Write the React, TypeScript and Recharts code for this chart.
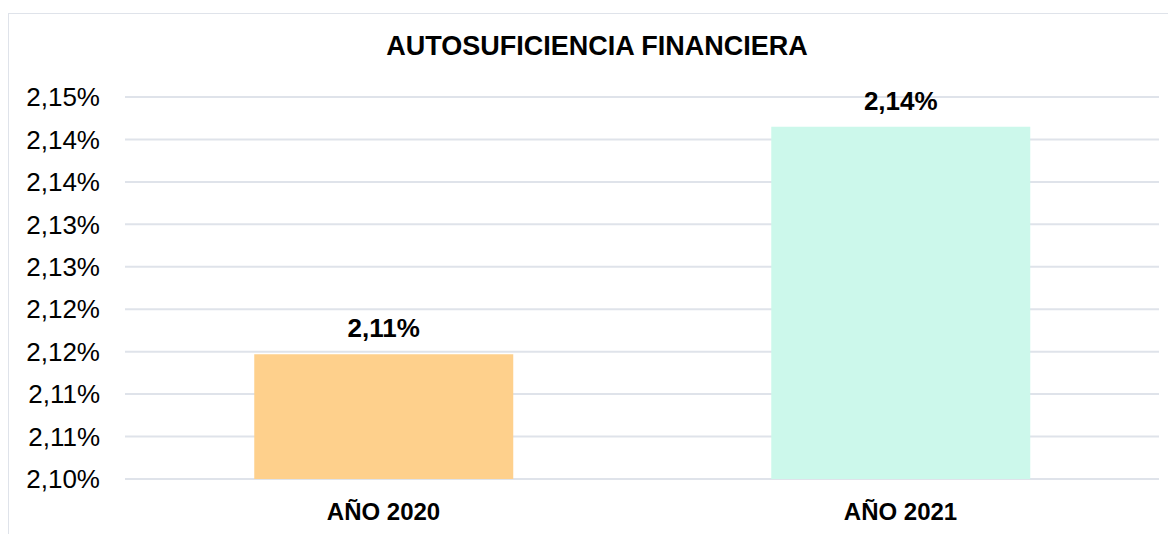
import { BarChart, Bar, XAxis, YAxis, CartesianGrid, Cell, LabelList } from 'recharts'

const categories = ['AÑO 2020', 'AÑO 2021']
const values = [2.1147, 2.1415]
const barColors = ['#FED08C', '#CCF8EB']
const yTicks = [2.1, 2.105, 2.11, 2.115, 2.12, 2.125, 2.13, 2.135, 2.14, 2.145]

const data = categories.map((name, i) => ({ name, value: values[i] }))

const fmtPct = (v: number) =>
  (Math.round(v * 100 + 1e-6) / 100).toFixed(2).replace('.', ',') + '%'

export default function App() {
  return (
    <div
      style={{
        position: 'relative',
        marginTop: 5,
        width: 1180,
        height: 540,
        border: '1px solid #dfe3ea',
        fontFamily: '"Liberation Sans", Arial, sans-serif',
        background: '#fff',
      }}
    >
      <div
        style={{
          position: 'absolute',
          top: 17,
          left: -2,
          width: 1180,
          textAlign: 'center',
          fontSize: 27,
          fontWeight: 'bold',
          color: '#000',
        }}
      >
        AUTOSUFICIENCIA FINANCIERA
      </div>
      <BarChart
        width={1168}
        height={540}
        data={data}
        margin={{ top: 83, right: 18, left: 0, bottom: 0 }}
        barCategoryGap="25%"
      >
        <CartesianGrid vertical={false} stroke="#dfe3ea" strokeWidth={2} />
        <XAxis
          dataKey="name"
          axisLine={false}
          tickLine={false}
          height={75}
          tickMargin={18}
          tick={{ fill: '#000', fontSize: 24, fontWeight: 'bold' }}
        />
        <YAxis
          type="number"
          domain={[2.1, 2.145]}
          ticks={yTicks}
          allowDataOverflow
          axisLine={false}
          tickLine={false}
          width={116}
          tickMargin={19}
          tickFormatter={fmtPct}
          tick={{ fill: '#000', fontSize: 26 }}
        />
        <Bar dataKey="value" isAnimationActive={false}>
          {data.map((d, i) => (
            <Cell key={d.name} fill={barColors[i]} />
          ))}
          <LabelList
            dataKey="value"
            position="top"
            offset={17}
            formatter={(v: number) => fmtPct(v)}
            style={{ fill: '#000', fontSize: 26, fontWeight: 'bold' }}
          />
        </Bar>
      </BarChart>
    </div>
  )
}
